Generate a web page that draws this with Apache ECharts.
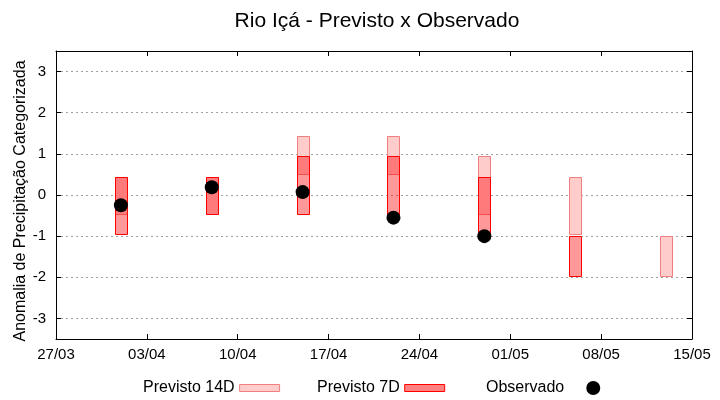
<!DOCTYPE html>
<html>
<head>
<meta charset="utf-8">
<script src="https://cdn.jsdelivr.net/npm/echarts@6/dist/echarts.min.js"></script>
<style>html,body{margin:0;padding:0;background:#fff}#c{width:720px;height:400px}</style>
</head>
<body>
<div id="c"></div>
<script>
// ---- data ----
const startDate = '2023-03-27';
const tickLabels = ['27/03','03/04','10/04','17/04','24/04','01/05','08/05','15/05'];
const dates = ['2023-04-01','2023-04-08','2023-04-15','2023-04-22','2023-04-29','2023-05-06','2023-05-13'];
const prev14Low  = [-0.45, -0.45, 0.50, 0.50, -0.45, -0.95, -1.96];
const prev14High = [ 0.43,  0.43, 1.43, 1.43,  0.94,  0.43, -1.00];
const prev7Low   = [-0.96, -0.45, -0.45, -0.45, -0.96, -1.96, null];
const prev7High  = [ 0.43,  0.43,  0.94,  0.94,  0.43, -1.00, null];
const observed   = [-0.25,  0.19,  0.07, -0.55, -1.00, null, null];

const DAY = 86400000;
function dayOffset(d){ return Math.round((Date.parse(d) - Date.parse(startDate)) / DAY); }
const xs = dates.map(dayOffset);

function boxData(lo, hi){
  const out = [];
  xs.forEach((x,i)=>{ if(lo[i]!=null && hi[i]!=null) out.push([x, lo[i], hi[i]]); });
  return out;
}
const obsData = [];
xs.forEach((x,i)=>{ if(observed[i]!=null) obsData.push([x, observed[i]]); });

function makeRender(fill, stroke){
  return function(params, api){
    const x = api.value(0), lo = api.value(1), hi = api.value(2);
    const p1 = api.coord([x, hi]);
    const p2 = api.coord([x, lo]);
    const w = 12;
    return {
      type: 'rect',
      shape: { x: Math.round(p1[0] - w/2) + 0.5, y: Math.round(p1[1]) + 0.5, width: w, height: Math.round(p2[1]) - Math.round(p1[1]) },
      style: { fill: fill, stroke: stroke, lineWidth: 1 }
    };
  };
}

const C14 = '#ffcccc', B14 = '#f08080';
const C7 = 'rgba(255,0,0,0.4)', B7 = '#ff0000';
const FONT = 'Liberation Sans, Arial, sans-serif';

const chart = echarts.init(document.getElementById('c'), null, {renderer:'canvas'});
const xBase = {
  type: 'value', min: 0, max: 49, interval: 7,
  axisLine: { show: true, onZero: false, lineStyle: { color: '#000', width: 1 } },
  axisTick: { show: true, inside: true, length: 5, lineStyle: { color: '#000' } },
  splitLine: { show: false }
};
const yBase = {
  type: 'value', min: -3.5, max: 3.5, splitNumber: 7,
  axisLine: { show: true, onZero: false, lineStyle: { color: '#000', width: 1 } },
  axisTick: { show: true, inside: true, length: 5, lineStyle: { color: '#000' } }
};
chart.setOption({
  animation: false,
  title: {
    text: 'Rio Içá - Previsto x Observado',
    left: 372, top: 6, textAlign: 'center',
    textStyle: { fontFamily: FONT, fontSize: 21, fontWeight: 'normal', color: '#000' }
  },
  grid: { left: 56, right: 28, top: 51, bottom: 61, containLabel: false, outerBoundsMode: 'none' },
  legend: [
    { left: 143, top: 380, padding: 0, align: 'right', itemWidth: 40, itemHeight: 7, selectedMode: false,
      textStyle: { fontFamily: FONT, fontSize: 16, color: '#000' },
      data: [{ name: 'Previsto 14D', icon: 'rect', itemStyle: { color: C14, borderColor: B14, borderWidth: 1 } }] },
    { left: 317, top: 380, padding: 0, align: 'right', itemWidth: 40, itemHeight: 7, selectedMode: false,
      textStyle: { fontFamily: FONT, fontSize: 16, color: '#000' },
      data: [{ name: 'Previsto 7D', icon: 'rect', itemStyle: { color: '#ff8080', borderColor: B7, borderWidth: 1 } }] },
    { left: 486, top: 380, padding: 0, align: 'right', itemWidth: 48, itemHeight: 14, selectedMode: false,
      textStyle: { fontFamily: FONT, fontSize: 16, color: '#000' },
      data: [{ name: 'Observado', icon: 'circle', itemStyle: { color: '#000', opacity: 1 } }] }
  ],
  xAxis: [
    Object.assign({}, xBase, { position: 'bottom',
      axisLabel: { show: true, margin: 8, color: '#000', fontFamily: FONT, fontSize: 15,
        formatter: v => tickLabels[Math.round(v/7)] || '' } }),
    Object.assign({}, xBase, { position: 'top', axisLabel: { show: false } })
  ],
  yAxis: [
    Object.assign({}, yBase, { position: 'left',
      name: 'Anomalia de Precipitação Categorizada', nameLocation: 'middle', nameGap: 27,
      nameMoveOverlap: false,
      nameTextStyle: { fontFamily: FONT, fontSize: 16, color: '#000', padding: [0, 12, 0, 0] },
      axisLabel: { show: true, margin: 10, color: '#000', fontFamily: FONT, fontSize: 15,
        formatter: v => Number.isInteger(v) ? String(v) : '' },
      splitLine: { show: true, lineStyle: { color: '#a0a0a0', type: [2, 3], width: 1 } } }),
    Object.assign({}, yBase, { position: 'right', axisLabel: { show: false }, splitLine: { show: false } })
  ],
  series: [
    { name: 'Previsto 14D', type: 'custom', renderItem: makeRender(C14, B14),
      itemStyle: { color: C14, borderColor: B14 },
      encode: { x: 0, y: [1, 2] }, data: boxData(prev14Low, prev14High) },
    { name: 'Previsto 7D', type: 'custom', renderItem: makeRender(C7, B7),
      itemStyle: { color: '#ff8080', borderColor: B7 },
      encode: { x: 0, y: [1, 2] }, data: boxData(prev7Low, prev7High) },
    { name: 'Observado', type: 'scatter', symbol: 'circle', symbolSize: 14,
      itemStyle: { color: '#000', opacity: 1 }, data: obsData }
  ]
});
</script>
</body>
</html>
